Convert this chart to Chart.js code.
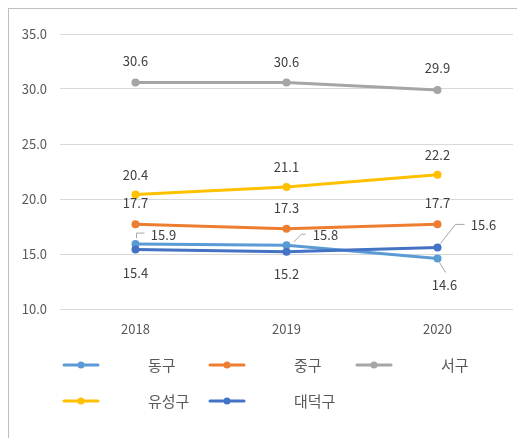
<!DOCTYPE html>
<html>
<head>
<meta charset="utf-8">
<script src="https://cdn.jsdelivr.net/npm/chart.js@4/dist/chart.umd.min.js"></script>
<style>
  html, body { margin: 0; padding: 0; background: #fff; }
  #wrap { position: relative; width: 517px; height: 438px; }
</style>
</head>
<body>
<div id="wrap"><canvas id="chart" width="517" height="438"></canvas></div>
<script>
const categories  = [ '2018', '2019', '2020' ];
const seriesNames = [ '동구', '중구', '서구', '유성구', '대덕구' ];
const dongGu      = [ 15.9, 15.8, 14.6 ];
const jungGu      = [ 17.7, 17.3, 17.7 ];
const seoGu       = [ 30.6, 30.6, 29.9 ];
const yuseongGu   = [ 20.4, 21.1, 22.2 ];
const daedeokGu   = [ 15.4, 15.2, 15.6 ];
const yTicks      = [ 10, 15, 20, 25, 30, 35 ];

const colors = [ '#5B9BD5', '#ED7D31', '#A5A5A5', '#FFC000', '#4472C4' ];
const FONT   = "'Noto Sans CJK KR', 'Noto Sans', sans-serif";

// label placement per series/point: offset of label centre, optional leader line (relative to point)
const labelSpots = [
    [ { dx: 28, dy: -9,  lead: [ [1, -6], [1, -11], [9, -11] ] },
      { dx: 39, dy: -10, lead: [ [7, -3], [15, -11], [19, -11] ] },
      { dx: 7,  dy: 27,  lead: [ [2, 4], [8, 14] ] } ],
    [ { dx: 0, dy: -21 }, { dx: 0, dy: -21 }, { dx: 0, dy: -21 } ],
    [ { dx: 0, dy: -21 }, { dx: 0, dy: -20 }, { dx: 0, dy: -22 } ],
    [ { dx: 0, dy: -20 }, { dx: 0, dy: -20 }, { dx: 0, dy: -20 } ],
    [ { dx: 0, dy: 23 },  { dx: 0, dy: 22 },
      { dx: 46, dy: -22, lead: [ [3, -4], [18, -23], [27, -23] ] } ]
];

const extrasPlugin = {
    id: 'extras',
    beforeDraw: function ( chart ) {
        const ctx = chart.ctx;
        ctx.save();
        ctx.fillStyle = '#fff';
        ctx.fillRect( 0, 0, chart.width, chart.height );
        ctx.strokeStyle = '#BFBFBF';
        ctx.lineWidth = 1;
        ctx.strokeRect( 8.5, 8.5, 700, 700 );
        ctx.restore();
    },
    afterDatasetsDraw: function ( chart ) {
        const ctx = chart.ctx;
        ctx.save();
        ctx.font = '13px ' + FONT;
        ctx.textAlign = 'center';
        ctx.textBaseline = 'middle';
        chart.data.datasets.forEach( function ( ds, i ) {
            const meta = chart.getDatasetMeta( i );
            meta.data.forEach( function ( pt, j ) {
                const spot = labelSpots[i][j];
                if ( spot.lead ) {
                    ctx.strokeStyle = '#A6A6A6';
                    ctx.lineWidth = 1;
                    ctx.beginPath();
                    spot.lead.forEach( function ( p, k ) {
                        const x = pt.x + p[0], y = pt.y + p[1];
                        if ( k === 0 ) ctx.moveTo( x, y ); else ctx.lineTo( x, y );
                    } );
                    ctx.stroke();
                }
                ctx.fillStyle = '#404040';
                ctx.fillText( ds.data[j].toFixed( 1 ), pt.x + spot.dx, pt.y + spot.dy );
            } );
        } );
        ctx.restore();
    },
    afterDraw: function ( chart ) {
        const ctx = chart.ctx;
        const rows = [ 365, 401 ];
        const cols = [ 63, 209, 356 ];
        ctx.save();
        ctx.font = '15px ' + FONT;
        ctx.textBaseline = 'middle';
        ctx.textAlign = 'left';
        seriesNames.forEach( function ( name, i ) {
            const x = cols[i % 3], y = rows[Math.floor( i / 3 )];
            ctx.strokeStyle = colors[i];
            ctx.lineWidth = 3;
            ctx.lineCap = 'round';
            ctx.beginPath();
            ctx.moveTo( x + 1, y );
            ctx.lineTo( x + 35, y );
            ctx.stroke();
            ctx.fillStyle = colors[i];
            ctx.beginPath();
            ctx.arc( x + 18, y, 3.5, 0, Math.PI * 2 );
            ctx.fill();
            ctx.fillStyle = '#595959';
            ctx.fillText( name, x + 85, y );
        } );
        ctx.restore();
    }
};

const seriesData = [ dongGu, jungGu, seoGu, yuseongGu, daedeokGu ];

new Chart( document.getElementById( 'chart' ).getContext( '2d' ), {
    type: 'line',
    data: {
        labels: categories,
        datasets: seriesData.map( function ( values, i ) {
            return {
                label: seriesNames[i],
                data: values,
                borderColor: colors[i],
                backgroundColor: colors[i],
                borderWidth: 3,
                pointRadius: 4,
                pointBorderWidth: 0,
                pointBackgroundColor: colors[i],
                tension: 0,
                order: seriesData.length - i
            };
        } )
    },
    options: {
        responsive: false,
        animation: false,
        devicePixelRatio: 1,
        layout: { padding: { top: 34, right: 1, bottom: 89, left: 0 } },
        plugins: {
            legend: { display: false },
            tooltip: { enabled: false }
        },
        scales: {
            x: {
                offset: true,
                grid: { display: false, drawTicks: false },
                border: { display: false },
                ticks: { color: '#595959', padding: 12, font: { size: 13, family: FONT } },
                afterFit: function ( s ) { s.height = 40; }
            },
            y: {
                min: yTicks[0],
                max: yTicks[yTicks.length - 1],
                afterBuildTicks: function ( s ) { s.ticks = yTicks.map( function ( v ) { return { value: v }; } ); },
                grid: { color: '#D9D9D9', lineWidth: 1, drawTicks: false },
                border: { display: false },
                ticks: {
                    color: '#595959',
                    padding: 13,
                    font: { size: 13, family: FONT },
                    callback: function ( v ) { return Number( v ).toFixed( 1 ); }
                },
                afterFit: function ( s ) { s.width = 60; }
            }
        }
    },
    plugins: [ extrasPlugin ]
} );
</script>
</body>
</html>
